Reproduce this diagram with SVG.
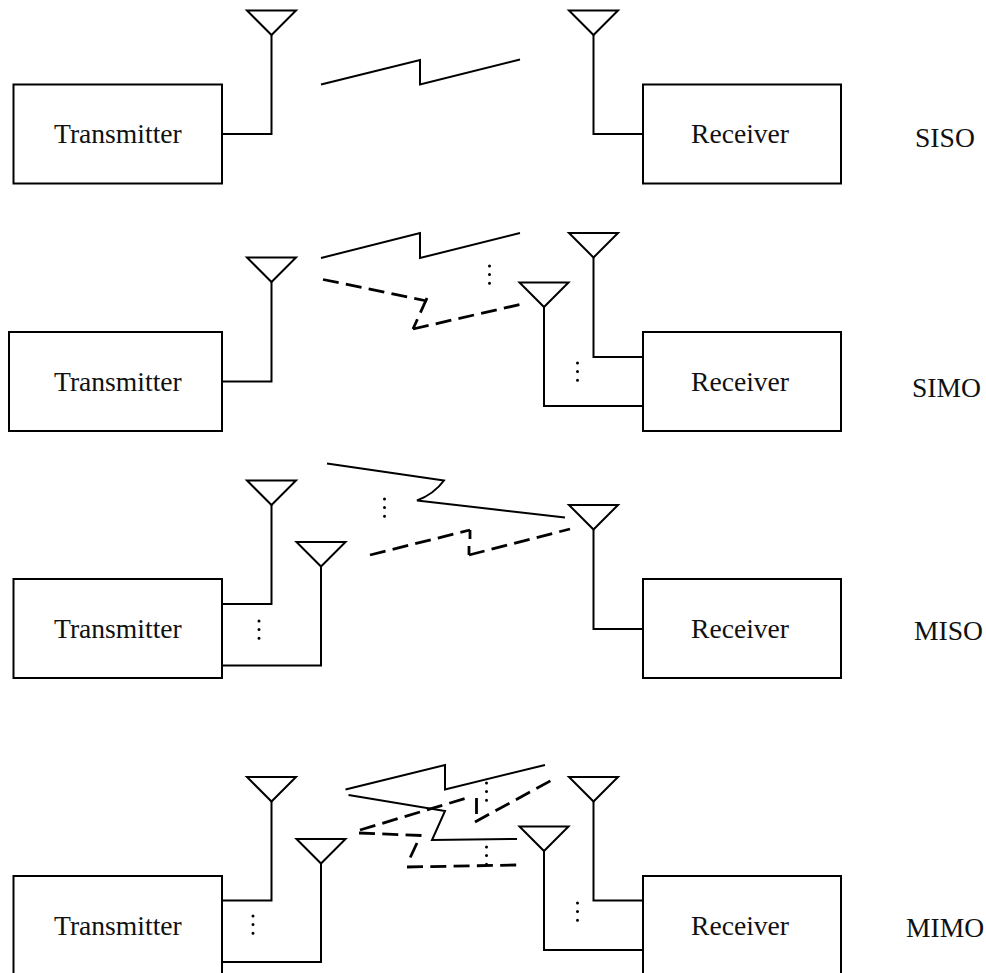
<svg xmlns="http://www.w3.org/2000/svg" width="986" height="973" viewBox="0 0 986 973">
<defs>
<style>
.b{fill:#fff;stroke:#000;stroke-width:2}
.a{fill:none;stroke:#000;stroke-width:2;stroke-linejoin:miter}
.w{fill:none;stroke:#000;stroke-width:2}
.d{fill:none;stroke:#000;stroke-width:2.8;stroke-dasharray:16 7.3}
.v{fill:none;stroke:#000;stroke-width:3;stroke-dasharray:0 8.6;stroke-linecap:round}
text{font-family:"Liberation Serif","Times New Roman",serif;font-size:27.6px;fill:#111}
</style>
<path id="ant" d="M-24.500 0H24.500L0 24.500Z" class="a"/>
</defs>
<rect width="986" height="973" fill="#fff"/>
<g id="connectors">
<path class="w" d="M222 134H271.500V35"/>
<path class="w" d="M643 134H593.500V35"/>
<path class="w" d="M321 84.500L420 60V84.500L520 59.500"/>

<path class="w" d="M222 381.500H271.500V282"/>
<path class="w" d="M643 357H593.500V257.500"/>
<path class="w" d="M643 406H544V307"/>
<path class="w" d="M321 258L420 233V258L520 233"/>
<path class="d" d="M323 279.500L427 301"/>
<path class="d" d="M427 298L413 329"/>
<path class="d" d="M413 329L522 304"/>
<path class="v" d="M489.500 266V285"/>
<path class="v" d="M577.500 363V381"/>

<path class="w" d="M222 604H271.500V505"/>
<path class="w" d="M222 665.500H321V566.500"/>
<path class="w" d="M643 629H593.500V529.500"/>
<path class="w" d="M327 463.500L444 480.500Q434 494 417 500.500L565 517.500"/>
<path class="d" d="M370 555L470 530"/>
<path class="d" d="M470 530V539"/>
<path class="d" d="M469 546V555"/>
<path class="d" d="M469 555L570 529"/>
<path class="v" d="M384.500 499V518"/>
<path class="v" d="M259 621V639"/>

<path class="w" d="M222 900.500H271.500V801"/>
<path class="w" d="M222 962H321V863"/>
<path class="w" d="M643 900.500H593.500V801"/>
<path class="w" d="M643 950H544V850.500"/>
<path class="w" d="M345.500 789.500L445 765V789.500L545 765"/>
<path class="w" d="M348.500 795L445 811L432 840L517 839"/>
<path class="d" d="M360 830L470 797"/>
<path class="d" d="M476.500 798V814"/>
<path class="d" d="M475 822L552 780"/>
<path class="d" d="M359 833L421.500 835.500"/>
<path class="d" d="M417 843L410 858"/>
<path class="d" d="M407 867L517 865"/>
<path class="v" d="M486.500 783V802"/>
<path class="v" d="M486.500 847V865"/>
<path class="v" d="M253 916V935"/>
<path class="v" d="M577.500 903V921"/>
</g>
<g id="siso-tx"><rect class="b" x="13.500" y="84.500" width="208.500" height="99"/><text x="54" y="143">Transmitter</text></g>
<g id="siso-rx"><rect class="b" x="643" y="84.500" width="198" height="99"/><text x="691" y="143">Receiver</text></g>
<g id="siso-tx-ant"><use href="#ant" x="271.500" y="10.500"/></g>
<g id="siso-rx-ant"><use href="#ant" x="593.500" y="10.500"/></g>
<g id="siso-label"><text x="915" y="147">SISO</text></g>

<g id="simo-tx"><rect class="b" x="9" y="332" width="213" height="99"/><text x="54" y="391">Transmitter</text></g>
<g id="simo-rx"><rect class="b" x="643" y="332" width="198" height="99"/><text x="691" y="391">Receiver</text></g>
<g id="simo-tx-ant"><use href="#ant" x="271.500" y="257.500"/></g>
<g id="simo-rx-ant1"><use href="#ant" x="593.500" y="233"/></g>
<g id="simo-rx-ant2"><use href="#ant" x="544" y="282.500"/></g>
<g id="simo-label"><text x="912" y="397">SIMO</text></g>

<g id="miso-tx"><rect class="b" x="13.500" y="579" width="208.500" height="99"/><text x="54" y="638">Transmitter</text></g>
<g id="miso-rx"><rect class="b" x="643" y="579" width="198" height="99"/><text x="691" y="638">Receiver</text></g>
<g id="miso-tx-ant1"><use href="#ant" x="271.500" y="480.500"/></g>
<g id="miso-tx-ant2"><use href="#ant" x="321" y="542"/></g>
<g id="miso-rx-ant"><use href="#ant" x="593.500" y="505"/></g>
<g id="miso-label"><text x="914" y="640">MISO</text></g>

<g id="mimo-tx"><rect class="b" x="13.500" y="876" width="208.500" height="99"/><text x="54" y="935">Transmitter</text></g>
<g id="mimo-rx"><rect class="b" x="643" y="876" width="198" height="99"/><text x="691" y="935">Receiver</text></g>
<g id="mimo-tx-ant1"><use href="#ant" x="271.500" y="777"/></g>
<g id="mimo-tx-ant2"><use href="#ant" x="321" y="839"/></g>
<g id="mimo-rx-ant1"><use href="#ant" x="593.500" y="777"/></g>
<g id="mimo-rx-ant2"><use href="#ant" x="544" y="826.500"/></g>
<g id="mimo-label"><text x="906" y="937">MIMO</text></g>
</svg>
